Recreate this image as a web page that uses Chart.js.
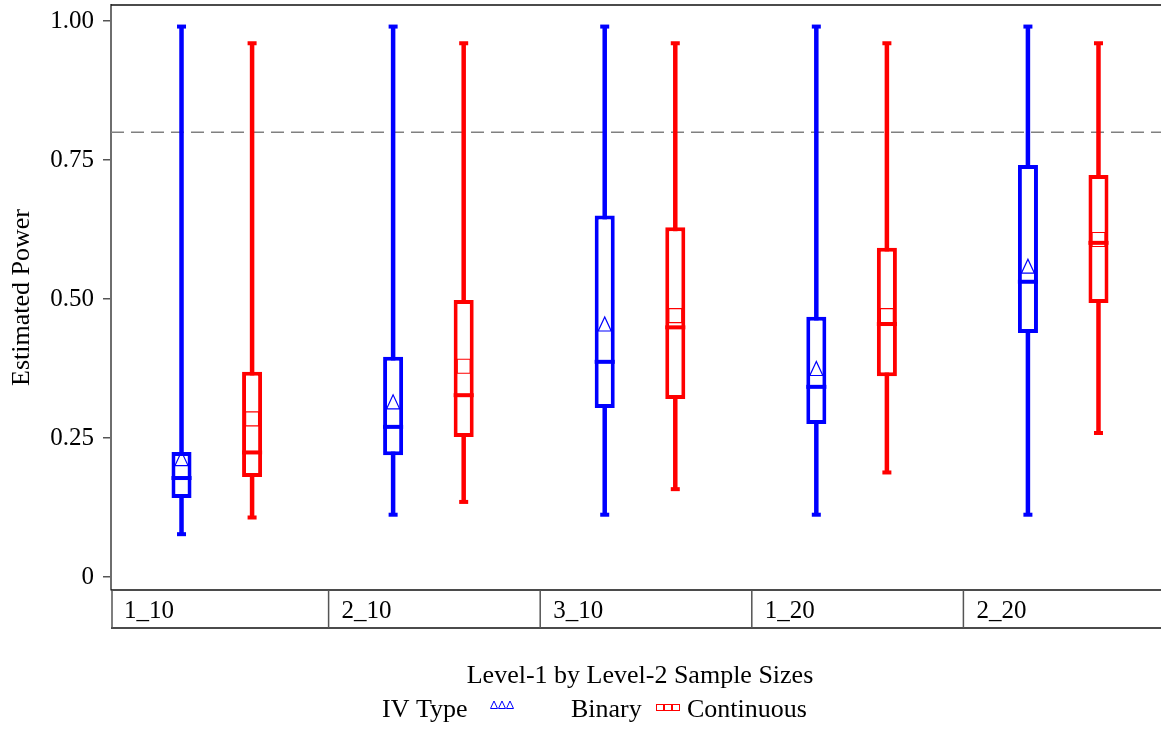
<!DOCTYPE html>
<html>
<head>
<meta charset="utf-8">
<title>Estimated Power by Sample Sizes</title>
<script src="https://cdn.jsdelivr.net/npm/chart.js@4.4.1/dist/chart.umd.min.js"></script>
<style>
  html, body { margin: 0; padding: 0; background: #fff; overflow: hidden; }
  #wrap { width: 1169px; height: 729px; }
</style>
</head>
<body>
<div id="wrap"><canvas id="powerChart" width="1169" height="729"></canvas></div>
<script>
// data
const categories = ["1_10", "2_10", "3_10", "1_20", "2_20"];
const yTicks = [0, 0.25, 0.5, 0.75, 1.0];
const refLine = 0.8;

const binaryMin = [0.077, 0.112, 0.112, 0.112, 0.112];
const binaryQ1 = [0.142, 0.219, 0.304, 0.275, 0.439];
const binaryMedian = [0.178, 0.270, 0.387, 0.342, 0.531];
const binaryQ3 = [0.225, 0.396, 0.650, 0.468, 0.741];
const binaryMax = [0.99, 0.99, 0.99, 0.99, 0.99];
const binaryMean = [0.213, 0.315, 0.455, 0.375, 0.559];

const contMin = [0.107, 0.135, 0.158, 0.188, 0.259];
const contQ1 = [0.180, 0.252, 0.320, 0.361, 0.493];
const contMedian = [0.224, 0.327, 0.449, 0.455, 0.601];
const contQ3 = [0.369, 0.498, 0.629, 0.592, 0.723];
const contMax = [0.96, 0.96, 0.96, 0.96, 0.96];
const contMean = [0.2845, 0.379, 0.470, 0.470, 0.607];

const blue = "#0000ff";
const red = "#ff0000";
const serif = "'Liberation Serif', 'DejaVu Serif', serif";

// extra stats per dataset, used by the plugin
const boxStats = [
    { min: binaryMin, max: binaryMax, median: binaryMedian, mean: binaryMean, color: blue, marker: "triangle" },
    { min: contMin, max: contMax, median: contMedian, mean: contMean, color: red, marker: "square" }
];

function boxRanges(q1, q3) {
    let arr = [];
    for (let i = 0; i < q1.length; i++) {
        arr.push([q1[i], q3[i]]);
    }
    return arr;
}

const boxPlotPlugin = {
    id: "boxPlot",
    beforeDatasetsDraw(chart) {
        const ctx = chart.ctx;
        const y = chart.scales.y;
        const area = chart.chartArea;
        // reference line
        ctx.save();
        ctx.strokeStyle = "#808080";
        ctx.lineWidth = 1.5;
        ctx.setLineDash([13, 7]);
        ctx.beginPath();
        ctx.moveTo(area.left, y.getPixelForValue(refLine));
        ctx.lineTo(area.right, y.getPixelForValue(refLine));
        ctx.stroke();
        ctx.setLineDash([]);
        // whiskers and caps
        boxStats.forEach(function (s, d) {
            const meta = chart.getDatasetMeta(d);
            meta.data.forEach(function (bar, i) {
                const yMin = y.getPixelForValue(s.min[i]);
                const yMax = y.getPixelForValue(s.max[i]);
                ctx.fillStyle = s.color;
                ctx.fillRect(bar.x - 2.25, yMax, 4.5, yMin - yMax);
                ctx.fillRect(bar.x - 4.5, yMax - 2, 9, 4);
                ctx.fillRect(bar.x - 4.5, yMin - 2, 9, 4);
            });
        });
        ctx.restore();
    },
    afterDatasetsDraw(chart) {
        const ctx = chart.ctx;
        const y = chart.scales.y;
        ctx.save();
        boxStats.forEach(function (s, d) {
            const meta = chart.getDatasetMeta(d);
            meta.data.forEach(function (bar, i) {
                const half = bar.width / 2;
                const yMed = y.getPixelForValue(s.median[i]);
                const yMean = y.getPixelForValue(s.mean[i]);
                ctx.fillStyle = s.color;
                ctx.fillRect(bar.x - half, yMed - 2, bar.width, 4);
                ctx.strokeStyle = s.color;
                ctx.lineWidth = 1.2;
                ctx.beginPath();
                if (s.marker === "triangle") {
                    ctx.moveTo(bar.x, yMean - 7);
                    ctx.lineTo(bar.x - 6.5, yMean + 7);
                    ctx.lineTo(bar.x + 6.5, yMean + 7);
                    ctx.closePath();
                } else {
                    ctx.rect(bar.x - 6.5, yMean - 7, 13, 14);
                }
                ctx.stroke();
            });
        });
        ctx.restore();
    },
    afterDraw(chart) {
        const ctx = chart.ctx;
        const x = chart.scales.x;
        const area = chart.chartArea;
        const rowTop = area.bottom;
        const rowBottom = area.bottom + 38;
        ctx.save();
        // frame: top and bottom of the plot
        ctx.strokeStyle = "#111";
        ctx.lineWidth = 1.5;
        ctx.beginPath();
        ctx.moveTo(area.left, area.top);
        ctx.lineTo(area.right, area.top);
        ctx.moveTo(area.left, area.bottom);
        ctx.lineTo(area.right, area.bottom);
        ctx.moveTo(area.left, rowBottom);
        ctx.lineTo(area.right, rowBottom);
        ctx.stroke();
        // category cells
        ctx.strokeStyle = "#555";
        ctx.beginPath();
        ctx.moveTo(area.left + 1, rowTop);
        ctx.lineTo(area.left + 1, rowBottom);
        let cellLeft = [area.left];
        for (let i = 0; i < categories.length - 1; i++) {
            const sep = (x.getPixelForValue(i) + x.getPixelForValue(i + 1)) / 2 + 6;
            ctx.moveTo(sep, rowTop);
            ctx.lineTo(sep, rowBottom);
            cellLeft.push(sep);
        }
        ctx.stroke();
        ctx.fillStyle = "#000";
        ctx.font = "25px " + serif;
        ctx.textAlign = "left";
        ctx.textBaseline = "middle";
        for (let i = 0; i < categories.length; i++) {
            ctx.fillText(categories[i], cellLeft[i] + 13, (rowTop + rowBottom) / 2 + 2);
        }
        // axis title
        ctx.font = "26px " + serif;
        ctx.textAlign = "center";
        ctx.fillText("Level-1 by Level-2 Sample Sizes", (area.left + area.right) / 2, 676);
        // legend
        ctx.textAlign = "left";
        ctx.fillText("IV Type", 382, 710);
        ctx.fillText("Binary", 571, 710);
        ctx.fillText("Continuous", 687, 710);
        ctx.lineWidth = 1;
        ctx.strokeStyle = blue;
        for (let k = 0; k < 3; k++) {
            const cx = 494 + k * 8;
            ctx.beginPath();
            ctx.moveTo(cx, 701);
            ctx.lineTo(cx - 3.5, 708.5);
            ctx.lineTo(cx + 3.5, 708.5);
            ctx.closePath();
            ctx.stroke();
        }
        ctx.strokeStyle = red;
        for (let k = 0; k < 3; k++) {
            ctx.strokeRect(656.5 + k * 8, 704.5, 7, 6);
        }
        ctx.restore();
    }
};

new Chart(document.getElementById("powerChart"), {
    type: "bar",
    data: {
        labels: categories,
        datasets: [
            {
                label: "Binary",
                data: boxRanges(binaryQ1, binaryQ3),
                backgroundColor: "#ffffff",
                borderColor: blue,
                borderWidth: 4,
                borderSkipped: false
            },
            {
                label: "Continuous",
                data: boxRanges(contQ1, contQ3),
                backgroundColor: "#ffffff",
                borderColor: red,
                borderWidth: 4,
                borderSkipped: false
            }
        ]
    },
    options: {
        responsive: false,
        animation: false,
        devicePixelRatio: 1,
        categoryPercentage: 0.667,
        barPercentage: 0.284,
        layout: { padding: { top: 5, bottom: 139, left: 0, right: 0 } },
        plugins: {
            legend: { display: false },
            tooltip: { enabled: false }
        },
        scales: {
            x: { display: false },
            y: {
                min: -0.0234,
                max: 1.0288,
                afterBuildTicks: (axis) => { axis.ticks = yTicks.map((v) => ({ value: v })); },
                afterFit: (axis) => {
                    axis.width = 111;
                    axis.paddingTop = 0;
                    axis.paddingBottom = 0;
                },
                ticks: {
                    color: "#000",
                    padding: 9,
                    font: { family: serif, size: 25 },
                    callback: (v) => (v === 0 ? "0" : v.toFixed(2))
                },
                grid: {
                    drawOnChartArea: false,
                    drawTicks: true,
                    tickLength: 8,
                    color: "#555",
                    lineWidth: 1.5
                },
                border: { color: "#6e6e6e", width: 2 },
                title: {
                    display: true,
                    text: "Estimated Power",
                    color: "#000",
                    font: { family: serif, size: 26 },
                    padding: { top: 7, bottom: 0 }
                }
            }
        }
    },
    plugins: [boxPlotPlugin]
});
</script>
</body>
</html>
